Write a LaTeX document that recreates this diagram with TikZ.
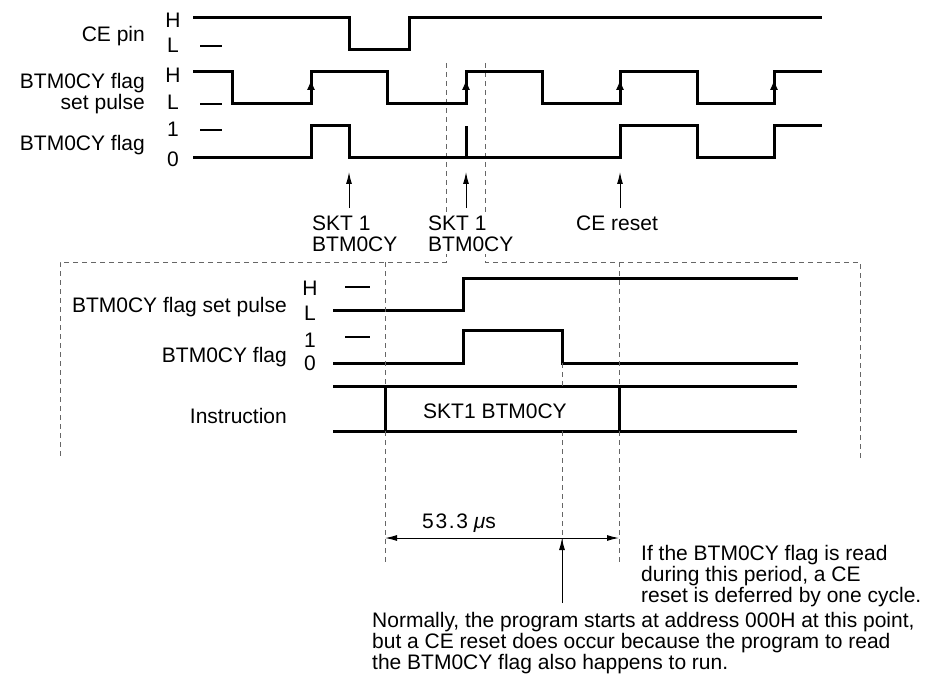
\documentclass[tikz,border=0pt]{standalone}
\usepackage{fontspec}
\setmainfont{Liberation Sans}
\usetikzlibrary{arrows.meta}
\tikzset{
  wave/.style      = {line width=3pt, line join=miter},
  guide/.style     = {line width=1pt, black!60, dash pattern=on 5pt off 4pt},
  pointer/.style   = {-{Latex[length=12pt, width=6pt]}, line width=1pt},
  edgetip/.style   = {-{Latex[length=10pt, width=8pt]}, line width=1pt},
  span/.style      = {{Latex[length=12pt, width=6pt]}-{Latex[length=12pt, width=6pt]},
                      line width=1pt},
  lbl/.style       = {font=\fontsize{21}{21}\selectfont, inner sep=0pt},
  levelmark/.style = {line width=1.5pt},
}

\begin{document}
\begin{tikzpicture}[x=1pt, y=-1pt]
    \useasboundingbox (0,0) rectangle (928,679);

    % --- zoom frame -----------------------------------------------------------
    \draw[guide] (446,63) -- (446,262) -- (60,262) -- (60,458);
    \draw[guide] (485,63) -- (485,262) -- (860,262) -- (860,458);

    % --- upper chart: labels ------------------------------------------------
    \node[lbl, anchor=base east] (cepin) at (145,42) {CE pin};
    \node[lbl, anchor=base] (ceH) at (173,28) {H};
    \node[lbl, anchor=base] (ceL) at (173,53) {L};
    \node[lbl, anchor=north east, align=right] (setpulse) at (145,73)
      {BTM0CY flag\\set pulse};
    \node[lbl, anchor=base] (spH) at (173,83) {H};
    \node[lbl, anchor=base] (spL) at (173,110) {L};
    \node[lbl, anchor=base east] (flag) at (145,151) {BTM0CY flag};
    \node[lbl, anchor=base] (flagA) at (173,137) {1};
    \node[lbl, anchor=base] (flagB) at (173,167) {0};
    \foreach \y in {46,104,130} \draw[levelmark] (200,\y) -- (222,\y);

    % --- upper chart: waveforms ---------------------------------------------
    \draw[wave] (193,18) -| (349,50) -| (409,18) -- (822,18);
    \draw[wave] (193,72) -| (232,104) -| (311,72) -| (387,104) -| (466,72)
      -| (542,104) -| (620,72) -| (697,104) -| (774,72) -- (822,72);
    \draw[wave] (193,158) -| (311,126) -| (349,158) -| (620,126) -| (697,158)
      -| (774,126) -- (822,126);
    \draw[wave] (466,158) -- (466,126);
    \foreach \x in {311,466,620,774} \draw[edgetip] (\x,104) -- (\x,80);

    % --- upper chart: events ------------------------------------------------
    \coordinate (readA) at (349,172);
    \coordinate (readB) at (466,172);
    \coordinate (ceres) at (620,172);
    \node[lbl, anchor=north west, align=left] (readAlbl) at (312,216) {SKT 1\\BTM0CY};
    \node[lbl, anchor=north west, align=left, fill=white, inner sep=2pt]
      (readBlbl) at (426,214) {SKT 1\\BTM0CY};
    \node[lbl, anchor=north west] (cereslbl) at (576,216) {CE reset};
    \draw[pointer] (readA |- 0,208) -- (readA);
    \draw[pointer] (readB |- 0,208) -- (readB);
    \draw[pointer] (ceres |- 0,208) -- (ceres);

    % --- lower chart: labels ------------------------------------------------
    \node[lbl, anchor=base east] (setpulseB) at (287,312) {BTM0CY flag set pulse};
    \node[lbl, anchor=base] (spHB) at (310,295) {H};
    \node[lbl, anchor=base] (spLB) at (310,320) {L};
    \node[lbl, anchor=base east] (flagC) at (287,362) {BTM0CY flag};
    \node[lbl, anchor=base] (flagD) at (310,347) {1};
    \node[lbl, anchor=base] (flagE) at (310,370) {0};
    \node[lbl, anchor=base east] (instr) at (287,423) {Instruction};
    \foreach \y in {287,337} \draw[levelmark] (345,\y) -- (370,\y);

    % --- lower chart: waveforms ---------------------------------------------
    \draw[wave] (333,310) -| (463,278) -- (798,278);
    \draw[wave] (333,363) -| (463,330) -| (562,363) -- (798,363);
    \draw[wave] (333,386) -- (797,386) (333,431) -- (797,431)
      (385,386) -- (385,431) (619,386) -- (619,431);
    \node[lbl, anchor=base west] (skt) at (423,418) {SKT1 BTM0CY};

    % --- lower chart: timing guides -----------------------------------------
    \draw[guide] (385,262) -- (385,386) (385,431) -- (385,565);
    \draw[guide] (562,363) -- (562,386) (562,431) -- (562,565);
    \draw[guide] (619,262) -- (619,386) (619,431) -- (619,565);

    \coordinate (spanL) at (385,538);
    \coordinate (spanR) at (619,538);
    \coordinate (restart) at (562,538);
    \coordinate (restartfoot) at (562,603);
    \draw[span] (spanL) -- (spanR);
    \draw[pointer] (restartfoot) -- (restart);
    \node[lbl, anchor=base west] (period) at (422,528)
      {{\addfontfeatures{LetterSpace=8}53.3} \textit{μ}s};

    % --- notes ----------------------------------------------------------------
    \node[lbl, anchor=north west, align=left] (defernote) at (641,545)
      {If the BTM0CY flag is read\\during this period, a CE\\reset is deferred by one cycle.};
    \node[lbl, anchor=north west, align=left] (normalnote) at (372,612)
      {Normally, the program starts at address 000H at this point,\\
       but a CE reset does occur because the program to read\\
       the BTM0CY flag also happens to run.};
  \end{tikzpicture}
\end{document}
